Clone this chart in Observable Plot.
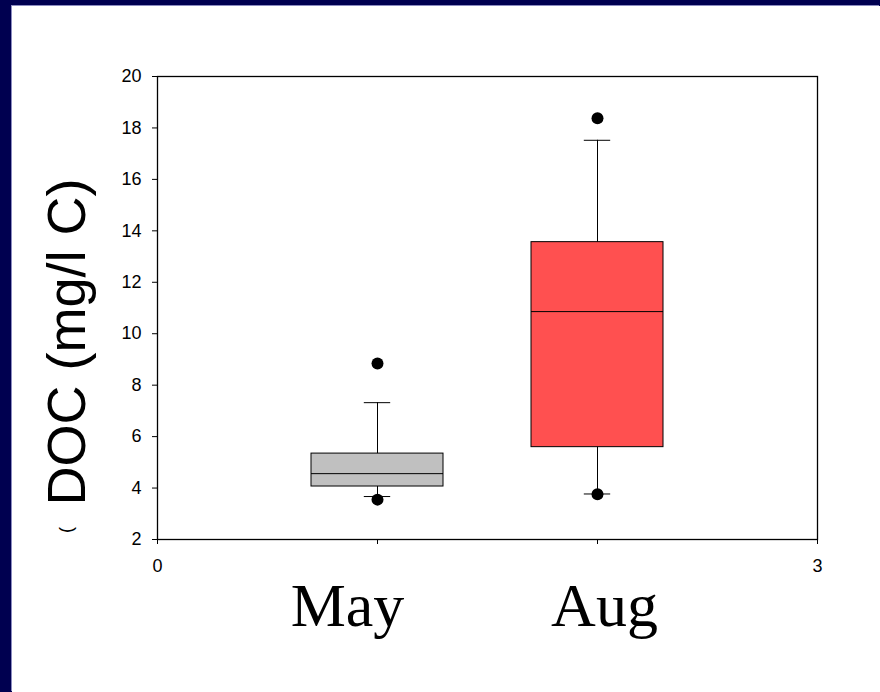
<!DOCTYPE html>
<html><head><meta charset="utf-8">
<script src="https://cdn.jsdelivr.net/npm/d3@7"></script>
<script src="https://cdn.jsdelivr.net/npm/@observablehq/plot@0.6"></script>
<style>
html,body{margin:0;padding:0;background:#000050;width:880px;height:692px;overflow:hidden}
#panel{position:absolute;left:12px;top:6px;width:868px;height:686px;background:#fff;box-shadow:-1px -1px 0 #8c8cc0}
</style></head><body><div id="panel"></div>
<script>
// Data
const months = ["May", "Aug"];
const positions = [1, 2];
const q1 = [4.06, 5.59];
const median = [4.56, 10.86];
const q3 = [5.34, 13.56];
const whiskerLow = [3.67, 3.77];
const whiskerHigh = [7.32, 17.52];
const boxColors = ["#c0c0c0", "#ff5050"];
const outlierMonths = ["May", "May", "Aug", "Aug"];
const outlierValues = [8.84, 3.55, 18.38, 3.76];
const yTicks = [2, 4, 6, 8, 10, 12, 14, 16, 18, 20];
const xTicks = [0, 1, 2, 3];
const xTickLabels = ["0", "", "", "3"];
const yTitle = "DOC (mg/l C)";

const boxes = months.map((m, i) => ({
  month: m, pos: positions[i], q1: q1[i], median: median[i], q3: q3[i],
  lo: whiskerLow[i], hi: whiskerHigh[i], color: boxColors[i]
}));
const outliers = outlierMonths.map((m, i) => ({pos: positions[months.indexOf(m)], value: outlierValues[i]}));
const halfBox = 0.3, halfCap = 0.06;

const chart = Plot.plot({
  width: 868, height: 686,
  marginLeft: 145, marginTop: 70, marginRight: 63, marginBottom: 153,
  style: {fontFamily: "'Liberation Sans', Arial, sans-serif", fontSize: "18px", color: "#000", background: "transparent"},
  x: {type: "linear", domain: [0, 3]},
  y: {domain: [2, 20]},
  color: {type: "identity"},
  marks: [
    Plot.axisY(yTicks, {tickSize: 5, tickPadding: 11, fontSize: 18, label: null, stroke: "#000"}),
    Plot.axisX(xTicks, {tickSize: 5, tickPadding: 15, fontSize: 18, label: null, stroke: "#000",
      tickFormat: d => xTickLabels[xTicks.indexOf(d)]}),
    Plot.rect(boxes, {x1: d => d.pos - halfBox, x2: d => d.pos + halfBox, y1: "q1", y2: "q3",
      fill: d => d.color, stroke: "#000", strokeWidth: 1}),
    Plot.ruleY(boxes, {y: "median", x1: d => d.pos - halfBox, x2: d => d.pos + halfBox, stroke: "#000", strokeWidth: 1}),
    Plot.ruleX(boxes, {x: "pos", y1: "q3", y2: "hi", stroke: "#000", strokeWidth: 1}),
    Plot.ruleX(boxes, {x: "pos", y1: "lo", y2: "q1", stroke: "#000", strokeWidth: 1}),
    Plot.ruleY(boxes, {y: "hi", x1: d => d.pos - halfCap, x2: d => d.pos + halfCap, stroke: "#000", strokeWidth: 1}),
    Plot.ruleY(boxes, {y: "lo", x1: d => d.pos - halfCap, x2: d => d.pos + halfCap, stroke: "#000", strokeWidth: 1}),
    Plot.dot(outliers, {x: "pos", y: "value", r: 6, fill: "#000", stroke: null}),
    Plot.frame({stroke: "#000", strokeWidth: 1.3}),
    Plot.text([boxes[0]], {x: "pos", text: "month", frameAnchor: "bottom", lineAnchor: "bottom", dy: 86, dx: -30,
      fontSize: 62, fontFamily: "'Liberation Serif', 'Times New Roman', serif", fill: "#000"}),
    Plot.text([boxes[1]], {x: "pos", text: "month", frameAnchor: "bottom", lineAnchor: "bottom", dy: 86, dx: 7,
      fontSize: 62, fontFamily: "'Liberation Serif', 'Times New Roman', serif", fill: "#000"}),
    Plot.text([yTitle], {text: d => d, frameAnchor: "left", rotate: -90, dx: -73, dy: 34,
      lineAnchor: "bottom", textAnchor: "middle", fontSize: 54, fill: "#000"}),
    Plot.text(["("], {text: d => d, frameAnchor: "left", rotate: -90, dx: -91, dy: 222,
      lineAnchor: "middle", textAnchor: "middle", fontSize: 18, fill: "#000"})
  ]
});
document.getElementById("panel").appendChild(chart);
</script>
</body></html>
